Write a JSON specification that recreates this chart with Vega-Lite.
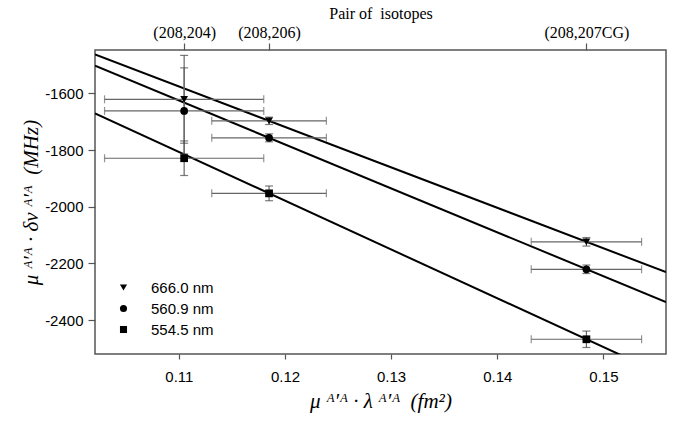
{
  "$schema": "https://vega.github.io/schema/vega-lite/v6.json",
  "width": 571,
  "height": 304,
  "autosize": {"type": "none"},
  "padding": {"left": 95, "top": 50, "right": 14, "bottom": 67},
  "background": "white",
  "config": {
    "view": {"stroke": "#555", "strokeWidth": 1.5},
    "axis": {"grid": false, "domain": false, "tickColor": "#555", "tickWidth": 1.2, "labelColor": "black", "titleColor": "black", "titleFontWeight": "normal"}
  },
  "datasets": {
    "pts": [
      {"wl": "666.0 nm", "x": 0.1105, "y": -1621, "xlo": 0.103, "xhi": 0.118, "ylo": -1776, "yhi": -1466},
      {"wl": "560.9 nm", "x": 0.1105, "y": -1662, "xlo": 0.103, "xhi": 0.118, "ylo": -1814, "yhi": -1510},
      {"wl": "554.5 nm", "x": 0.1105, "y": -1829, "xlo": 0.103, "xhi": 0.118, "ylo": -1890, "yhi": -1768},
      {"wl": "666.0 nm", "x": 0.1185, "y": -1697, "xlo": 0.1131, "xhi": 0.1239, "ylo": -1710, "yhi": -1684},
      {"wl": "560.9 nm", "x": 0.1185, "y": -1757, "xlo": 0.1131, "xhi": 0.1239, "ylo": -1771, "yhi": -1743},
      {"wl": "554.5 nm", "x": 0.1185, "y": -1953, "xlo": 0.1131, "xhi": 0.1239, "ylo": -1979, "yhi": -1927},
      {"wl": "666.0 nm", "x": 0.1484, "y": -2124, "xlo": 0.1432, "xhi": 0.1536, "ylo": -2139, "yhi": -2109},
      {"wl": "560.9 nm", "x": 0.1484, "y": -2221, "xlo": 0.1432, "xhi": 0.1536, "ylo": -2236, "yhi": -2206},
      {"wl": "554.5 nm", "x": 0.1484, "y": -2468, "xlo": 0.1432, "xhi": 0.1536, "ylo": -2497, "yhi": -2439}
    ],
    "fits": [
      {"wl": "666.0 nm", "x": 0.1021, "y": -1463},
      {"wl": "666.0 nm", "x": 0.1559, "y": -2231},
      {"wl": "560.9 nm", "x": 0.1021, "y": -1502.5},
      {"wl": "560.9 nm", "x": 0.1559, "y": -2337},
      {"wl": "554.5 nm", "x": 0.1021, "y": -1670.5},
      {"wl": "554.5 nm", "x": 0.1559, "y": -2597}
    ]
  },
  "resolve": {"axis": {"x": "independent", "y": "independent"}},
  "layer": [
    {
      "data": {"name": "fits"},
      "mark": {"type": "line", "color": "black", "strokeWidth": 2, "clip": true},
      "encoding": {
        "x": {"field": "x", "type": "quantitative",
              "scale": {"domain": [0.1021, 0.1559], "nice": false, "zero": false},
              "axis": {"orient": "bottom", "values": [0.11, 0.12, 0.13, 0.14, 0.15], "format": ".2f", "tickSize": 5,
                       "labelFont": "Liberation Sans", "labelFontSize": 15, "labelPadding": 10,
                       "title": "μ\u00a0ᴬ′ᴬ\u00a0·\u00a0λ\u00a0ᴬ′ᴬ\u00a0\u00a0(fm²)", "titleFont": "Liberation Serif", "titleFontSize": 21, "titleFontStyle": "italic", "titlePadding": 6}},
        "y": {"field": "y", "type": "quantitative",
              "scale": {"domain": [-2520, -1447], "nice": false, "zero": false},
              "axis": {"orient": "left", "values": [-1600, -1800, -2000, -2200, -2400], "labelExpr": "'' + datum.value", "tickSize": 7,
                       "labelFont": "Liberation Sans", "labelFontSize": 15, "labelPadding": 5,
                       "title": "μ\u00a0ᴬ′ᴬ\u00a0·\u00a0δν\u00a0ᴬ′ᴬ\u00a0\u00a0(MHz)", "titleFont": "Liberation Serif", "titleFontSize": 21, "titleFontStyle": "italic", "titlePadding": 3}},
        "detail": {"field": "wl"}
      }
    },
    {
      "data": {"name": "pts"},
      "mark": {"type": "rule", "color": "#666", "strokeWidth": 1.2},
      "encoding": {
        "x": {"field": "xlo", "type": "quantitative", "axis": null},
        "x2": {"field": "xhi"},
        "y": {"field": "y", "type": "quantitative", "axis": null}
      }
    },
    {
      "data": {"name": "pts"},
      "mark": {"type": "rule", "color": "#666", "strokeWidth": 1.2},
      "encoding": {
        "x": {"field": "x", "type": "quantitative", "axis": null},
        "y": {"field": "ylo", "type": "quantitative", "axis": null},
        "y2": {"field": "yhi"}
      }
    },
    {
      "data": {"name": "pts"},
      "mark": {"type": "tick", "orient": "vertical", "color": "#666", "size": 8, "thickness": 1.2},
      "encoding": {
        "x": {"field": "xlo", "type": "quantitative", "axis": null},
        "y": {"field": "y", "type": "quantitative", "axis": null}
      }
    },
    {
      "data": {"name": "pts"},
      "mark": {"type": "tick", "orient": "vertical", "color": "#666", "size": 8, "thickness": 1.2},
      "encoding": {
        "x": {"field": "xhi", "type": "quantitative", "axis": null},
        "y": {"field": "y", "type": "quantitative", "axis": null}
      }
    },
    {
      "data": {"name": "pts"},
      "mark": {"type": "tick", "orient": "horizontal", "color": "#444", "size": 8, "thickness": 1.2},
      "encoding": {
        "x": {"field": "x", "type": "quantitative", "axis": null},
        "y": {"field": "ylo", "type": "quantitative", "axis": null}
      }
    },
    {
      "data": {"name": "pts"},
      "mark": {"type": "tick", "orient": "horizontal", "color": "#444", "size": 8, "thickness": 1.2},
      "encoding": {
        "x": {"field": "x", "type": "quantitative", "axis": null},
        "y": {"field": "yhi", "type": "quantitative", "axis": null}
      }
    },
    {
      "data": {"name": "pts"},
      "mark": {"type": "point", "filled": true, "color": "black", "size": 60, "opacity": 1},
      "encoding": {
        "x": {"field": "x", "type": "quantitative",
              "axis": {"orient": "top", "values": [0.1105, 0.1185, 0.1484], "tickSize": 7,
                       "labelExpr": "datum.value < 0.114 ? '(208,204)' : datum.value < 0.13 ? '(208,206)' : '(208,207CG)'",
                       "labelFont": "Liberation Serif", "labelFontSize": 16, "labelPadding": 3,
                       "title": "Pair of\u00a0\u00a0isotopes", "titleFont": "Liberation Serif", "titleFontSize": 16, "titlePadding": 3}},
        "y": {"field": "y", "type": "quantitative", "axis": null},
        "shape": {"field": "wl", "type": "nominal",
                  "scale": {"domain": ["666.0 nm", "560.9 nm", "554.5 nm"], "range": ["triangle-down", "circle", "square"]},
                  "legend": {"orient": "none", "legendX": 21, "legendY": 230, "title": null, "padding": 0,
                             "labelFont": "Liberation Sans", "labelFontSize": 15, "labelOffset": 20, "rowPadding": 5,
                             "symbolSize": 50, "symbolFillColor": "black", "symbolStrokeColor": "black"}}
      }
    }
  ]
}
